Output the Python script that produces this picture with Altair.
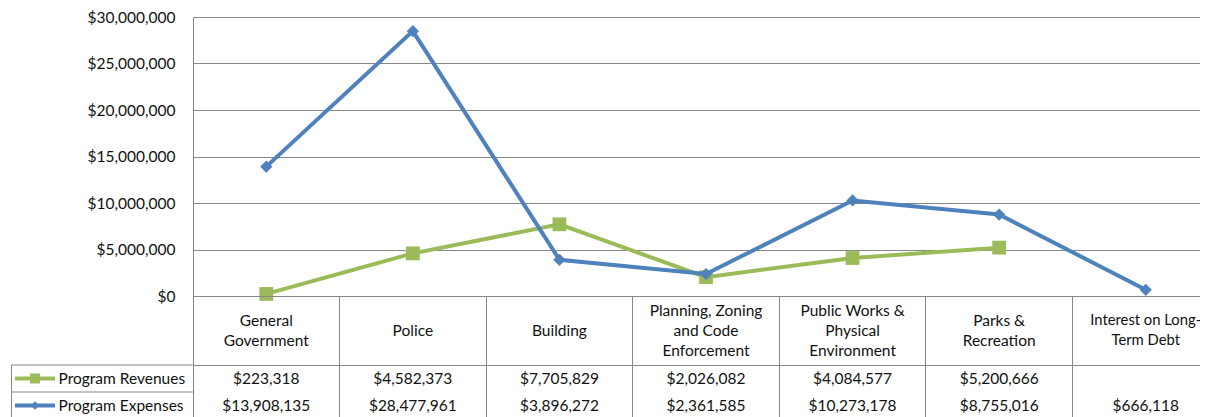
import altair as alt
import pandas as pd

categories = [
    "General Government",
    "Police",
    "Building",
    "Planning, Zoning and Code Enforcement",
    "Public Works & Physical Environment",
    "Parks & Recreation",
    "Interest on Long-Term Debt",
]
header_labels = [
    "General\nGovernment",
    "Police",
    "Building",
    "Planning, Zoning\nand Code\nEnforcement",
    "Public Works &\nPhysical\nEnvironment",
    "Parks &\nRecreation",
    "Interest on Long-\nTerm Debt",
]
series_names = ["Program Revenues", "Program Expenses"]
revenues = [223318, 4582373, 7705829, 2026082, 4084577, 5200666, None]
expenses = [13908135, 28477961, 3896272, 2361585, 10273178, 8755016, 666118]
y_ticks = [0, 5000000, 10000000, 15000000, 20000000, 25000000, 30000000]

FONT = "Lato"
FS = 15.5
LH = 20
GREEN = "#9BBB59"
BLUE = "#4F81BD"
GRID = "#878787"
TXT = "#111111"
W = 1026
H_PLOT = 279
H_HDR = 69
H_ROW = 27

# ---------- line chart ----------
rev_df = pd.DataFrame({"cat": categories, "value": revenues}).dropna()
exp_df = pd.DataFrame({"cat": categories, "value": expenses})

x_pt = alt.X("cat:N", sort=categories, scale=alt.Scale(type="point", padding=0.5), axis=None)
y_val = alt.Y(
    "value:Q",
    scale=alt.Scale(domain=[0, 30000000], nice=False),
    axis=alt.Axis(
        values=y_ticks, format="$,.0f", title=None, domain=False, ticks=False,
        labelPadding=18, grid=True, gridColor=GRID, gridWidth=1,
        labelFont=FONT, labelFontSize=FS, labelColor=TXT,
    ),
)

rev_line = alt.Chart(rev_df).mark_line(color=GREEN, strokeWidth=4).encode(x=x_pt, y=y_val)
rev_pts = alt.Chart(rev_df).mark_point(shape="square", filled=True, size=190, color=GREEN, opacity=1).encode(x=x_pt, y=y_val)
exp_line = alt.Chart(exp_df).mark_line(color=BLUE, strokeWidth=4).encode(x=x_pt, y=y_val)
exp_pts = alt.Chart(exp_df).mark_point(shape="diamond", filled=True, size=150, color=BLUE, opacity=1).encode(x=x_pt, y=y_val)

line_chart = alt.layer(rev_line, rev_pts, exp_line, exp_pts).properties(width=W, height=H_PLOT)

# ---------- table header ----------
x_band = alt.X(
    "cat:N", sort=categories,
    scale=alt.Scale(type="band", paddingInner=0, paddingOuter=0),
    axis=alt.Axis(title=None, labels=False, ticks=False, domain=False, grid=True,
                  bandPosition=0, gridColor=GRID, gridWidth=1),
)
hdr_df = pd.DataFrame({"cat": categories, "label": header_labels})
# first-line position so that the multi-line block is centred in the cell
hdr_df["ly"] = [H_HDR / 2 - (lbl.count("\n")) * LH / 2 for lbl in header_labels]
header_chart = alt.Chart(hdr_df).mark_text(
    lineBreak="\n", lineHeight=LH, font=FONT, color=TXT, baseline="middle"
).encode(
    x=x_band,
    y=alt.Y("ly:Q", scale=None),
    text="label:N",
    size=alt.condition(alt.datum.cat == categories[-1], alt.value(14.8), alt.value(FS)),
).properties(width=W, height=H_HDR)

# ---------- table values ----------
def fmt(v):
    return "" if v is None else f"${v:,.0f}"

val_rows = []
for s, vals in zip(series_names, [revenues, expenses]):
    for c, v in zip(categories, vals):
        val_rows.append({"cat": c, "series": s, "txt": fmt(v)})
val_df = pd.DataFrame(val_rows)

y_scale = alt.Scale(type="band", paddingInner=0, paddingOuter=0)
y_band = alt.Y(
    "series:N", sort=series_names, scale=y_scale,
    axis=alt.Axis(title=None, labels=False, ticks=False, domain=False, grid=True,
                  bandPosition=0, gridColor=GRID, gridWidth=1),
)
vals_text = alt.Chart(val_df).mark_text(font=FONT, fontSize=FS, color=TXT, baseline="middle").encode(
    x=x_band, y=y_band, text="txt:N"
)

leg_df = pd.DataFrame({
    "series": series_names,
    "sz": [100, 70],
})
color_enc = alt.Color("series:N", scale=alt.Scale(domain=series_names, range=[GREEN, BLUE]), legend=None)
shape_enc = alt.Shape("series:N", scale=alt.Scale(domain=series_names, range=["square", "diamond"]), legend=None)
y_leg = alt.Y("series:N", sort=series_names, scale=y_scale, axis=None)

LEFT = -181.5
leg_hlines = alt.Chart(leg_df).mark_rule(color=GRID, strokeWidth=1).encode(
    y=alt.Y("series:N", sort=series_names, scale=y_scale, axis=None, bandPosition=0),
    x=alt.value(LEFT), x2=alt.value(0),
)
leg_bottom = alt.Chart(leg_df.head(1)).mark_rule(color=GRID, strokeWidth=1).encode(
    x=alt.value(LEFT), x2=alt.value(0), y=alt.value(2 * H_ROW)
)
leg_left = alt.Chart(leg_df.head(1)).mark_rule(color=GRID, strokeWidth=1).encode(
    x=alt.value(LEFT), y=alt.value(0), y2=alt.value(2 * H_ROW)
)
leg_line = alt.Chart(leg_df).mark_rule(strokeWidth=4).encode(
    x=alt.value(-178), x2=alt.value(-138), y=y_leg, color=color_enc
)
leg_mark = alt.Chart(leg_df).mark_point(filled=True, opacity=1).encode(
    x=alt.value(-158), y=y_leg, color=color_enc, shape=shape_enc,
    size=alt.Size("sz:Q", scale=None, legend=None),
)
leg_text = alt.Chart(leg_df).mark_text(align="left", baseline="middle", font=FONT, fontSize=FS, color=TXT).encode(
    x=alt.value(-134.5), y=y_leg, text="series:N"
)

values_chart = alt.layer(
    vals_text, leg_hlines, leg_bottom, leg_left, leg_line, leg_mark, leg_text
).properties(width=W, height=2 * H_ROW)

chart = alt.vconcat(
    line_chart, header_chart, values_chart, spacing=0, bounds="flush"
).configure_view(stroke=GRID, strokeWidth=1).properties(
    padding={"left": 2, "top": 1, "right": -20, "bottom": 0}
)

chart.save("out.html", embed_options={"renderer": "svg", "actions": False})
